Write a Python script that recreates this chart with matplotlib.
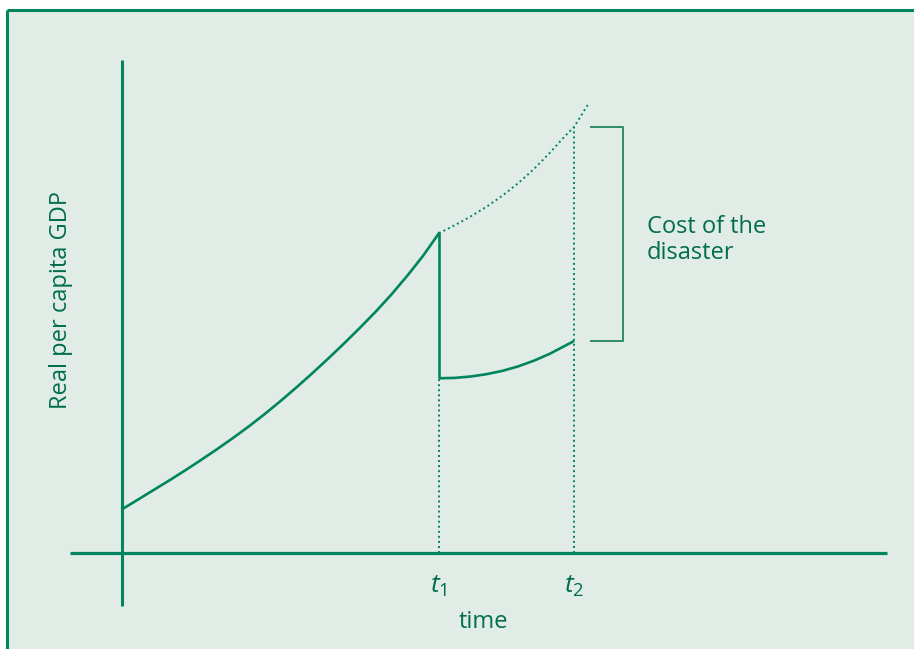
import numpy as np
import matplotlib
matplotlib.use('Agg')
import matplotlib.pyplot as plt
from matplotlib.patches import Rectangle
from matplotlib.lines import Line2D

plt.rcParams['font.family'] = ['Open Sans', 'DejaVu Sans']
plt.rcParams['mathtext.fontset'] = 'custom'
plt.rcParams['mathtext.rm'] = 'Open Sans'
plt.rcParams['mathtext.it'] = 'Open Sans:italic'

# data (time units, GDP units)
t1 = 10.0
t2 = 14.27

growth_t = [0.0, 0.5, 1.0, 1.5, 2.0, 2.5, 3.0, 3.5, 4.0, 4.5, 5.0,
            5.5, 6.0, 6.5, 7.0, 7.5, 8.0, 8.5, 9.0, 9.5, 10.0]
growth_gdp = [4.35, 5.31, 6.28, 7.25, 8.25, 9.29, 10.36, 11.47, 12.63, 13.86, 15.16,
              16.52, 17.93, 19.39, 20.90, 22.46, 24.08, 25.81, 27.68, 29.68, 31.93]

recovery_t = [10.0, 10.5, 11.0, 11.5, 12.0, 12.5, 13.0, 13.5, 14.0, 14.27]
recovery_gdp = [17.42, 17.46, 17.60, 17.83, 18.16, 18.61, 19.18, 19.87, 20.70, 21.15]

trend_t = [10.0, 10.5, 11.0, 11.5, 12.0, 12.5, 13.0, 13.5, 14.0, 14.27, 14.71]
trend_gdp = [31.93, 32.73, 33.60, 34.57, 35.67, 36.92, 38.34, 39.96, 41.7, 42.55, 44.81]

tick_labels = [r'$t_{\mathit{1}}$', r'$t_{\mathit{2}}$']

line_col = '#00855f'
text_col = '#006e4c'
bg_col = '#e1ece6'
dots = (0, (1, 1.6))

fig = plt.figure(figsize=(9.14, 6.49), dpi=100)
fig.patch.set_facecolor('white')

# background panel and top/left border
fig.add_artist(Rectangle((7 / 914, 0), 1, 1 - 10 / 649, transform=fig.transFigure,
                         facecolor=bg_col, edgecolor='none', zorder=0))
fig.add_artist(Line2D([7 / 914, 1], [1 - 10 / 649] * 2, transform=fig.transFigure,
                      color=line_col, lw=2.2, solid_capstyle='butt'))
fig.add_artist(Line2D([7 / 914] * 2, [0, 1 - 10 / 649], transform=fig.transFigure,
                      color=line_col, lw=2.2, solid_capstyle='butt'))

ax = fig.add_axes([0, 0, 1, 1])
ax.set_xlim(-3.87, 25.01)
ax.set_ylim(-9.65, 55.25)
ax.axis('off')

# axes lines
ax.plot([-1.66, 24.16], [0, 0], color=line_col, lw=2.3, solid_capstyle='butt')
ax.plot([0, 0], [-5.35, 49.25], color=line_col, lw=2.2, solid_capstyle='butt')

# actual path
ax.plot(growth_t, growth_gdp, color=line_col, lw=1.9)
ax.plot([t1, t1], [growth_gdp[-1], recovery_gdp[0]], color=line_col, lw=1.9,
        solid_capstyle='butt')
ax.plot(recovery_t, recovery_gdp, color=line_col, lw=1.9, solid_capstyle='butt')

# counterfactual trend
ax.plot(trend_t, trend_gdp, color=line_col, lw=1.4, linestyle=dots)

# guide lines at t1 and t2
top = trend_gdp[trend_t.index(t2)]
bottom = recovery_gdp[-1]
ax.plot([t1, t1], [0, recovery_gdp[0]], color=line_col, lw=1.4, linestyle=dots)
ax.plot([t2, t2], [0, top], color=line_col, lw=1.4, linestyle=dots)

# bracket for the cost
ax.plot([14.8, 15.81, 15.81, 14.8], [top, top, bottom, bottom], color='#2f8a68', lw=1.4)
ax.text(16.57, (top + bottom) / 2 - 0.6, 'Cost of the\ndisaster', color=text_col,
        fontsize=17, ha='left', va='center', linespacing=1.1)

# labels
for x, lab in zip([t1, t2], tick_labels):
    ax.text(x, -3.4, lab, color=text_col, fontsize=19, ha='center', va='center')
ax.text(11.39, -6.95, 'time', color=text_col, fontsize=17, ha='center', va='center')
ax.text(-1.94, 25.25, 'Real per capita GDP', color=text_col, fontsize=17,
        ha='center', va='center', rotation=90)

fig.savefig('out.png', dpi=100, facecolor=fig.get_facecolor())
